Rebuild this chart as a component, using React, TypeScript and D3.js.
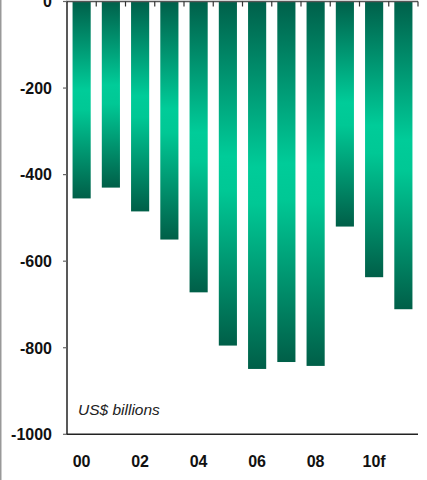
import React from "react";
import * as d3 from "d3";

const categories = ["00", "01", "02", "03", "04", "05", "06", "07", "08", "09", "10f", "11f"];
const values = [-455, -430, -485, -550, -672, -795, -849, -833, -842, -520, -637, -711];
const yTicks = [0, -200, -400, -600, -800, -1000];
const xLabelShown = ["00", "02", "04", "06", "08", "10f"];
const unitLabel = "US$ billions";

const W = 427;
const H = 480;
const left = 67;
const right = 418;
const top = 1.5;
const bottom = 434.3;

export default function App() {
  const x = d3.scaleBand<string>().domain(categories).range([left, right]).paddingInner(0.38).paddingOuter(0.19);
  const xb = d3.scaleBand<string>().domain(categories).range([left, right]);
  const y = d3.scaleLinear().domain([0, -1000]).range([top, bottom]);
  const font = "Arial, 'Liberation Sans', sans-serif";
  return (
    <div style={{ position: "absolute", left: 0, top: 0 }}>
      <svg width={W} height={H} style={{ display: "block" }}>
        <defs>
          <linearGradient id="barGrad" x1="0" y1="0" x2="0" y2="1">
            <stop offset="0" stopColor="#00604a" />
            <stop offset="0.45" stopColor="#00cc99" />
            <stop offset="0.55" stopColor="#00c895" />
            <stop offset="1" stopColor="#005f48" />
          </linearGradient>
        </defs>
        <rect x={0} y={0} width={W} height={H} fill="#fff" />
        <line x1={0.75} x2={0.75} y1={0} y2={H} stroke="#999" strokeWidth={1.5} />
        {categories.map((c, i) => (
          <rect
            key={c}
            x={x(c)}
            y={y(0)}
            width={x.bandwidth()}
            height={y(values[i]) - y(0)}
            fill="url(#barGrad)"
          />
        ))}
        {/* top axis at zero */}
        <line x1={left - 1} x2={right} y1={y(0)} y2={y(0)} stroke="#555" strokeWidth={1.5} />
        {categories.map((c) => (
          <line key={"t" + c} x1={(xb(c) as number) + xb.bandwidth()} x2={(xb(c) as number) + xb.bandwidth()} y1={y(0)} y2={y(0) + 5} stroke="#333" strokeWidth={1.2} />
        ))}
        {/* bottom axis */}
        <line x1={left - 1} x2={right} y1={bottom} y2={bottom} stroke="#222" strokeWidth={1.5} />
        {/* left axis */}
        <line x1={left} x2={left} y1={y(0)} y2={bottom} stroke="#222" strokeWidth={1.5} />
        {yTicks.map((t) => (
          <g key={t}>
            <line x1={left - 4} x2={left} y1={y(t)} y2={y(t)} stroke="#666" strokeWidth={1.2} />
            <text
              x={52}
              y={y(t)}
              dy="0.36em"
              textAnchor="end"
              fontFamily={font}
              fontWeight="bold"
              fontSize={16}
              fill="#111"
            >
              {t}
            </text>
          </g>
        ))}
        {xLabelShown.map((c) => (
          <text
            key={c}
            x={(xb(c) as number) + xb.bandwidth() / 2}
            y={467}
            textAnchor="middle"
            fontFamily={font}
            fontWeight="bold"
            fontSize={16}
            fill="#111"
          >
            {c}
          </text>
        ))}
        <text x={78} y={415} fontFamily={font} fontStyle="italic" fontSize={15.5} fill="#222">
          {unitLabel}
        </text>
      </svg>
    </div>
  );
}
